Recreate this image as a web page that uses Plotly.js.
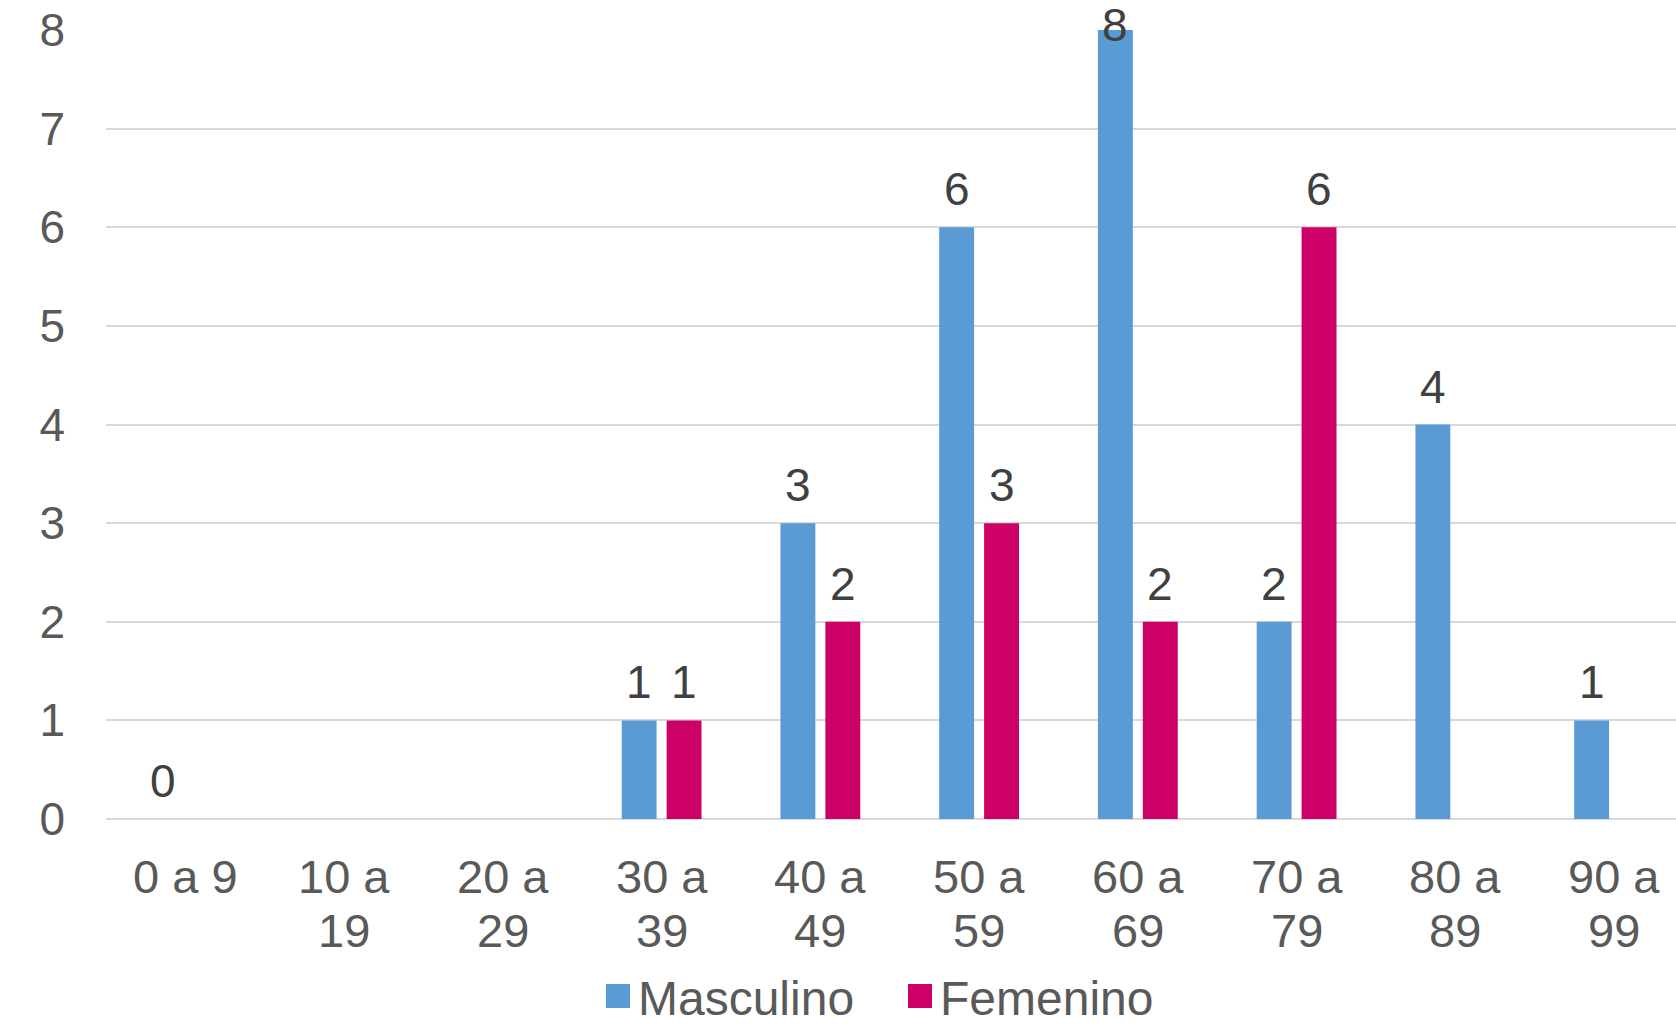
<!DOCTYPE html>
<html>
<head>
<meta charset="utf-8">
<script src="https://cdn.plot.ly/plotly-3.0.1.min.js"></script>
<style>html,body{margin:0;padding:0;background:#fff;}#chart{width:1676px;height:1027px;}</style>
</head>
<body>
<div id="chart"></div>
<script>
// ---- data ----
const categories = ["0 a 9", "10 a<br>19", "20 a<br>29", "30 a<br>39", "40 a<br>49", "50 a<br>59", "60 a<br>69", "70 a<br>79", "80 a<br>89", "90 a<br>99"];
const masculino = [0, null, null, 1, 3, 6, 8, 2, 4, 1];
const femenino  = [null, null, null, 1, 2, 3, 2, 6, null, null];
const seriesNames = ["Masculino", "Femenino"];
const seriesColors = ["#5B9BD5", "#CC0066"];
const yTicks = [0, 1, 2, 3, 4, 5, 6, 7, 8];

// ---- layout geometry ----
const W = 1676, H = 1027;
const mT = 30, mB = 208, mL = 106, mR = 0;
const yMax = 8;
const plotH = H - mT - mB;
const unit = plotH / yMax;
const barOffset = 22.5;
const labelGap = 38;
const FONT = "Liberation Sans, Arial, sans-serif";
const labelFont = {family: FONT, size: 46, color: "#404040"};
const catFont = {family: FONT, size: 47, color: "#595959"};
const catLineShift = [57.5, 111];

const annotations = [];
// data labels
[masculino, femenino].forEach((vals, si) => {
  vals.forEach((v, i) => {
    if (v === null) return;
    const pix = mT + (yMax - v) * unit;
    const center = Math.max(pix - labelGap, 25);
    annotations.push({
      x: categories[i], y: v, xref: "x", yref: "y",
      text: String(v), showarrow: false,
      xshift: si === 0 ? -barOffset : barOffset,
      yshift: pix - center,
      yanchor: "middle", xanchor: "center",
      font: labelFont
    });
  });
});
// category labels (two lines with tighter spacing)
categories.forEach(c => {
  c.split("<br>").forEach((line, li) => {
    annotations.push({
      x: c, y: 0, xref: "x", yref: "paper",
      text: line, showarrow: false,
      yshift: -catLineShift[li],
      yanchor: "middle", xanchor: "center",
      font: catFont
    });
  });
});

const traces = [masculino, femenino].map((vals, si) => ({
  type: "bar",
  name: seriesNames[si],
  x: categories,
  y: vals.map(v => v === null ? 0 : v),
  marker: {color: seriesColors[si]},
  hoverinfo: "skip"
}));

const layout = {
  width: W, height: H,
  margin: {t: mT, b: mB, l: mL, r: mR, pad: 0, autoexpand: false},
  paper_bgcolor: "#fff", plot_bgcolor: "#fff",
  barmode: "group",
  bargap: 0.434,
  bargroupgap: 0.223,
  font: {family: FONT, color: "#595959"},
  xaxis: {
    type: "category",
    range: [-0.5, 9.39],
    showgrid: false, showline: false, zeroline: false,
    ticks: "", showticklabels: false,
    fixedrange: true
  },
  yaxis: {
    range: [0, yMax],
    tickvals: yTicks,
    ticktext: yTicks.map(String),
    showgrid: true, gridcolor: "#D9D9D9", gridwidth: 2,
    zeroline: true, zerolinecolor: "#D9D9D9", zerolinewidth: 2,
    showline: false, ticks: "",
    tickfont: {size: 46, color: "#595959"},
    ticklabelstandoff: 40,
    fixedrange: true
  },
  showlegend: true,
  legend: {
    orientation: "h",
    xref: "container", yref: "container",
    x: 0.3568, xanchor: "left",
    y: 0.030, yanchor: "middle",
    font: {size: 48, color: "#595959"},
    entrywidth: 257
  },
  annotations: annotations
};

Plotly.newPlot("chart", traces, layout, {displayModeBar: false, staticPlot: true}).then(gd => {
  // enlarge legend swatches to match the reference squares
  gd.querySelectorAll(".legendpoints path").forEach(p => {
    const t = p.getAttribute("transform") || "";
    p.setAttribute("transform", t + " scale(2)");
  });
});
</script>
</body>
</html>
